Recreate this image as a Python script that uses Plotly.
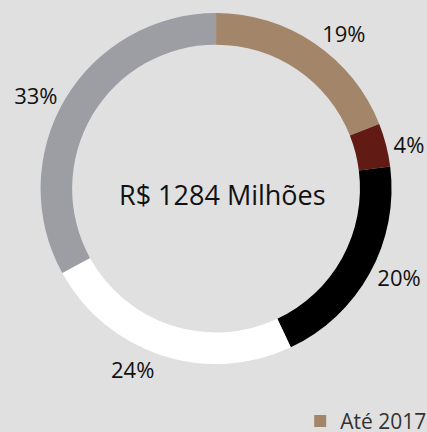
import plotly.graph_objects as go

# Vencimentos da dívida (participação %)
labels = ['Até 2017', '2018', '2019', '2020', 'Após 2020']
values = [19, 4, 20, 24, 33]
colors = ['#A3866A', '#621A14', '#000000', '#FFFFFF', '#9D9EA3']
total_text = 'R$ 1284 Milhões'

bg = '#E0E0E0'
font_family = 'Open Sans, Lato, sans-serif'

fig = go.Figure()

fig.add_pie(
    labels=labels, values=values,
    hole=0.82, sort=False, direction='clockwise', rotation=0,
    marker=dict(colors=colors, line=dict(width=0)),
    texttemplate='%{percent:.0%}', textposition='outside',
    textfont=dict(size=22, color='#111111', family=font_family),
    domain=dict(x=[0.095, 0.917], y=[0.157, 0.97]),
    showlegend=True,
)

# total no centro do anel
fig.add_annotation(
    text=total_text, x=0.522, y=0.549, xref='paper', yref='paper',
    showarrow=False,
    font=dict(size=27, color='#111111', family=font_family),
)

fig.update_layout(
    width=427, height=432,
    paper_bgcolor=bg, plot_bgcolor=bg,
    margin=dict(l=0, r=0, t=0, b=0, autoexpand=False),
    font=dict(family=font_family),
    legend=dict(
        orientation='h', x=0.703, y=0.072, xanchor='left', yanchor='top',
        font=dict(size=21, color='#333333', family=font_family),
        bgcolor='rgba(0,0,0,0)',
    ),
)

fig.write_html("out.html", config={'displayModeBar': False},
               post_script="document.body.style.margin='0';")
